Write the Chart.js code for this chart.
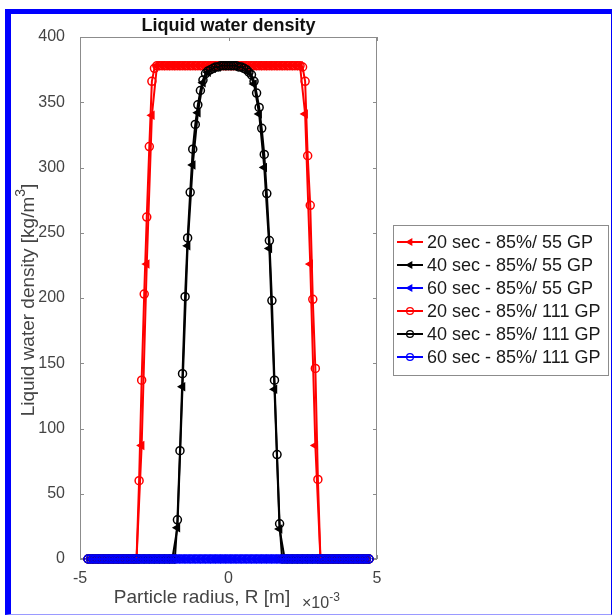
<!DOCTYPE html>
<html>
<head>
<meta charset="utf-8">
<script src="https://cdn.jsdelivr.net/npm/chart.js@4.4.0/dist/chart.umd.min.js"></script>
<style>
  html, body { margin: 0; padding: 0; background: #fff; }
  #wrap { position: relative; width: 612px; height: 615px; }
  #frame {
    position: absolute; left: 5px; top: 9px; width: 600px; height: 600px;
    border-left: 6px solid #0000ff; border-top: 5px solid #0000ff;
    border-right: 1px solid #0000ff; border-bottom: 1px solid #9a9aff;
    pointer-events: none;
  }
</style>
</head>
<body>
<div id="wrap">
  <canvas id="densityChart" width="612" height="615"></canvas>
  <div id="frame"></div>
</div>
<script>
// radius grid points, in units of 1e-3 m
const radius111 = [
  -4.730, -4.644, -4.558, -4.472, -4.386, -4.300, -4.214, -4.128, -4.042, -3.956,
  -3.870, -3.784, -3.698, -3.612, -3.526, -3.440, -3.354, -3.268, -3.182, -3.096,
  -3.010, -2.924, -2.838, -2.752, -2.666, -2.580, -2.494, -2.408, -2.322, -2.236,
  -2.150, -2.064, -1.978, -1.892, -1.806, -1.720, -1.634, -1.548, -1.462, -1.376,
  -1.290, -1.204, -1.118, -1.032, -0.946, -0.860, -0.774, -0.688, -0.602, -0.516,
  -0.430, -0.344, -0.258, -0.172, -0.086, 0, 0.086, 0.172, 0.258, 0.344,
  0.430, 0.516, 0.602, 0.688, 0.774, 0.860, 0.946, 1.032, 1.118, 1.204,
  1.290, 1.376, 1.462, 1.548, 1.634, 1.720, 1.806, 1.892, 1.978, 2.064,
  2.150, 2.236, 2.322, 2.408, 2.494, 2.580, 2.666, 2.752, 2.838, 2.924,
  3.010, 3.096, 3.182, 3.268, 3.354, 3.440, 3.526, 3.612, 3.698, 3.784,
  3.870, 3.956, 4.042, 4.128, 4.214, 4.300, 4.386, 4.472, 4.558, 4.644,
  4.730
];
const radius55 = [
  -4.644, -4.472, -4.300, -4.128, -3.956, -3.784, -3.612, -3.440, -3.268, -3.096,
  -2.924, -2.752, -2.580, -2.408, -2.236, -2.064, -1.892, -1.720, -1.548, -1.376,
  -1.204, -1.032, -0.860, -0.688, -0.516, -0.344, -0.172, 0, 0.172, 0.344,
  0.516, 0.688, 0.860, 1.032, 1.204, 1.376, 1.548, 1.720, 1.892, 2.064,
  2.236, 2.408, 2.580, 2.752, 2.924, 3.096, 3.268, 3.440, 3.612, 3.784,
  3.956, 4.128, 4.300, 4.472, 4.644
];

// liquid water density [kg/m3], 55 grid points
const rho20s55 = [
  0, 0, 0, 0, 0, 0, 0, 0, 0, 0,
  87, 226, 340, 378, 378, 378, 378, 378, 378, 378,
  378, 378, 378, 378, 378, 378, 378, 378, 378, 378,
  378, 378, 378, 378, 378, 378, 378, 378, 378, 378,
  378, 378, 341, 226, 87, 0, 0, 0, 0, 0,
  0, 0, 0, 0, 0
];
const rho40s55 = [
  0, 0, 0, 0, 0, 0, 0, 0, 0, 0,
  0, 0, 0, 0, 0, 0, 0, 24, 132, 240,
  302, 342, 365, 373, 376, 377, 378, 378, 378, 377,
  376, 373, 364, 341, 300, 238, 130, 23, 0, 0,
  0, 0, 0, 0, 0, 0, 0, 0, 0, 0,
  0, 0, 0, 0, 0
];
const rho60s55 = [
  0, 0, 0, 0, 0, 0, 0, 0, 0, 0,
  0, 0, 0, 0, 0, 0, 0, 0, 0, 0,
  0, 0, 0, 0, 0, 0, 0, 0, 0, 0,
  0, 0, 0, 0, 0, 0, 0, 0, 0, 0,
  0, 0, 0, 0, 0, 0, 0, 0, 0, 0,
  0, 0, 0, 0, 0
];

// liquid water density [kg/m3], 111 grid points
const rho20s111 = [
  0, 0, 0, 0, 0, 0, 0, 0, 0, 0,
  0, 0, 0, 0, 0, 0, 0, 0, 0, 0,
  60, 137, 203, 262, 316, 366, 376, 378, 378, 378,
  378, 378, 378, 378, 378, 378, 378, 378, 378, 378,
  378, 378, 378, 378, 378, 378, 378, 378, 378, 378,
  378, 378, 378, 378, 378, 378, 378, 378, 378, 378,
  378, 378, 378, 378, 378, 378, 378, 378, 378, 378,
  378, 378, 378, 378, 378, 378, 378, 378, 378, 378,
  378, 378, 378, 378, 377, 366, 309, 271, 199, 146,
  61, 0, 0, 0, 0, 0, 0, 0, 0, 0,
  0, 0, 0, 0, 0, 0, 0, 0, 0, 0,
  0
];
const rho40s111 = [
  0, 0, 0, 0, 0, 0, 0, 0, 0, 0,
  0, 0, 0, 0, 0, 0, 0, 0, 0, 0,
  0, 0, 0, 0, 0, 0, 0, 0, 0, 0,
  0, 0, 0, 0, 0, 30, 83, 142, 201, 246,
  281, 314, 333, 348, 359, 367, 372, 374, 375, 376,
  377, 377, 378, 378, 378, 378, 378, 378, 378, 377,
  377, 376, 375, 373, 371, 366, 357, 346, 330, 310,
  280, 244, 198, 137, 80, 27, 0, 0, 0, 0,
  0, 0, 0, 0, 0, 0, 0, 0, 0, 0,
  0, 0, 0, 0, 0, 0, 0, 0, 0, 0,
  0, 0, 0, 0, 0, 0, 0, 0, 0, 0,
  0
];
const rho60s111 = [
  0, 0, 0, 0, 0, 0, 0, 0, 0, 0,
  0, 0, 0, 0, 0, 0, 0, 0, 0, 0,
  0, 0, 0, 0, 0, 0, 0, 0, 0, 0,
  0, 0, 0, 0, 0, 0, 0, 0, 0, 0,
  0, 0, 0, 0, 0, 0, 0, 0, 0, 0,
  0, 0, 0, 0, 0, 0, 0, 0, 0, 0,
  0, 0, 0, 0, 0, 0, 0, 0, 0, 0,
  0, 0, 0, 0, 0, 0, 0, 0, 0, 0,
  0, 0, 0, 0, 0, 0, 0, 0, 0, 0,
  0, 0, 0, 0, 0, 0, 0, 0, 0, 0,
  0, 0, 0, 0, 0, 0, 0, 0, 0, 0,
  0
];

const seriesLabels = [
  '20 sec - 85%/ 55 GP', '40 sec - 85%/ 55 GP', '60 sec - 85%/ 55 GP',
  '20 sec - 85%/ 111 GP', '40 sec - 85%/ 111 GP', '60 sec - 85%/ 111 GP'
];
const xTickValues = [-5, 0, 5];
const yTickValues = [0, 50, 100, 150, 200, 250, 300, 350, 400];

const FONT = 'Liberation Sans, Arial, Helvetica, sans-serif';
const TEXT = '#444444';
const AXIS = '#8c8c8c';

function pts(xs, ys) {
    return xs.map(function(x, i) { return { x: x, y: ys[i] }; });
}

function series(label, xs, ys, color, marker, order) {
    return {
        label: label,
        data: pts(xs, ys),
        borderColor: color,
        backgroundColor: color,
        borderWidth: 2,
        pointStyle: marker,
        rotation: marker === 'triangle' ? -90 : 0,
        pointRadius: 4,
        pointHoverRadius: 4,
        pointBorderWidth: 1.5,
        pointBorderColor: color,
        pointBackgroundColor: marker === 'triangle' ? color : 'rgba(0,0,0,0)',
        tension: 0,
        fill: false,
        clip: false,
        order: order
    };
}

// text with a raised small part, e.g. kg/m^3
function drawSup(ctx, parts, x, y, size, align) {
    let total = 0;
    parts.forEach(function(p) {
        ctx.font = (p.sup ? Math.round(size * 0.72) : size) + 'px ' + FONT;
        p.w = ctx.measureText(p.t).width;
        total += p.w;
    });
    let cx = align === 'center' ? x - total / 2 : x;
    parts.forEach(function(p) {
        ctx.font = (p.sup ? Math.round(size * 0.72) : size) + 'px ' + FONT;
        ctx.fillText(p.t, cx, p.sup ? y - size * 0.42 : y);
        cx += p.w;
    });
}

const decor = {
    id: 'decor',
    beforeDatasetsDraw(chart) {
        const { ctx, chartArea: a, scales } = chart;
        ctx.save();
        ctx.strokeStyle = AXIS;
        ctx.lineWidth = 1;
        ctx.strokeRect(a.left + 0.5, a.top + 0.5, a.right - a.left - 1, a.bottom - a.top - 1);
        ctx.beginPath();
        xTickValues.forEach(function(v) {
            const px = Math.round(scales.x.getPixelForValue(v)) + 0.5;
            ctx.moveTo(px, a.bottom); ctx.lineTo(px, a.bottom - 4);
            ctx.moveTo(px, a.top); ctx.lineTo(px, a.top + 4);
        });
        yTickValues.forEach(function(v) {
            const py = Math.round(scales.y.getPixelForValue(v)) + 0.5;
            ctx.moveTo(a.left, py); ctx.lineTo(a.left + 4, py);
            ctx.moveTo(a.right, py); ctx.lineTo(a.right - 4, py);
        });
        ctx.stroke();
        ctx.restore();
    },
    afterDraw(chart) {
        const { ctx, chartArea: a } = chart;
        ctx.save();
        ctx.fillStyle = '#111111';
        ctx.textBaseline = 'middle';
        ctx.textAlign = 'center';
        ctx.font = 'bold 18px ' + FONT;
        ctx.fillText('Liquid water density', (a.left + a.right) / 2, 26);

        // axis labels
        ctx.fillStyle = TEXT;
        ctx.textAlign = 'left';
        drawSup(ctx, [{ t: 'Particle radius, R [m]' }], 202, 598, 19, 'center');
        drawSup(ctx, [{ t: '\u00d710' }, { t: '-3', sup: true }], 302, 604, 16, 'left');

        ctx.translate(29, 300);
        ctx.rotate(-Math.PI / 2);
        drawSup(ctx, [{ t: 'Liquid water density [kg/m' }, { t: '3', sup: true }, { t: ']' }], 0, 0, 19, 'center');
        ctx.restore();

        // legend box
        const lx = 393, ly = 225, lw = 215, rowH = 23;
        const metas = chart.data.datasets;
        ctx.save();
        ctx.fillStyle = '#ffffff';
        ctx.fillRect(lx, ly, lw, rowH * metas.length + 12);
        ctx.strokeStyle = AXIS;
        ctx.lineWidth = 1;
        ctx.strokeRect(lx + 0.5, ly + 0.5, lw, rowH * metas.length + 12);
        metas.forEach(function(ds, k) {
            const cy = ly + 17 + k * rowH;
            ctx.strokeStyle = ds.borderColor;
            ctx.fillStyle = ds.pointBackgroundColor;
            ctx.lineWidth = 2;
            ctx.beginPath();
            ctx.moveTo(397, cy); ctx.lineTo(423, cy);
            ctx.stroke();
            ctx.lineWidth = 1.3;
            Chart.helpers.drawPoint(ctx, {
                pointStyle: ds.pointStyle, rotation: ds.rotation,
                radius: 3.4, borderWidth: 1.3
            }, 410, cy);
            ctx.fillStyle = '#1a1a1a';
            ctx.font = '18px ' + FONT;
            ctx.textAlign = 'left';
            ctx.textBaseline = 'middle';
            ctx.fillText(ds.label, 427, cy + 1);
        });
        ctx.restore();
    }
};

const ctx = document.getElementById('densityChart').getContext('2d');
const densityChart = new Chart(ctx, {
    type: 'line',
    data: {
        datasets: [
            series(seriesLabels[0], radius55, rho20s55, '#ff0000', 'triangle', 6),
            series(seriesLabels[1], radius55, rho40s55, '#000000', 'triangle', 5),
            series(seriesLabels[2], radius55, rho60s55, '#0000ff', 'triangle', 4),
            series(seriesLabels[3], radius111, rho20s111, '#ff0000', 'circle', 3),
            series(seriesLabels[4], radius111, rho40s111, '#000000', 'circle', 2),
            series(seriesLabels[5], radius111, rho60s111, '#0000ff', 'circle', 1)
        ]
    },
    options: {
        responsive: false,
        animation: false,
        devicePixelRatio: 1,
        events: [],
        layout: { padding: { left: 0, right: 235, top: 37, bottom: 0 } },
        plugins: {
            legend: { display: false },
            tooltip: { enabled: false }
        },
        scales: {
            x: {
                type: 'linear',
                min: -5,
                max: 5,
                afterFit: function(scale) { scale.height = 56; },
                grid: { display: false, drawTicks: false },
                border: { display: false },
                ticks: {
                    stepSize: 5,
                    padding: 10,
                    color: TEXT,
                    font: { family: FONT, size: 16 }
                }
            },
            y: {
                min: 0,
                max: 400,
                afterFit: function(scale) { scale.width = 80; },
                grid: { display: false, drawTicks: false },
                border: { display: false },
                ticks: {
                    stepSize: 50,
                    padding: 15,
                    color: TEXT,
                    font: { family: FONT, size: 16 }
                }
            }
        }
    },
    plugins: [decor]
});
</script>
</body>
</html>
